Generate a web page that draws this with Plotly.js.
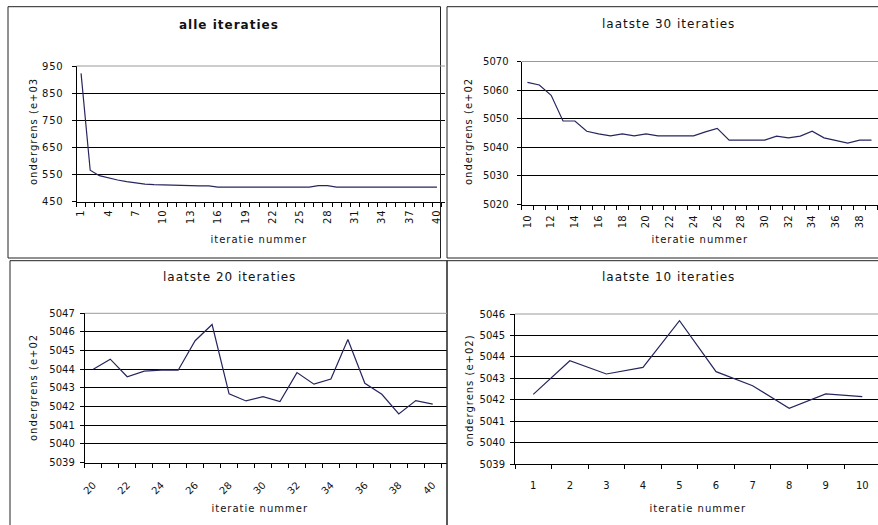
<!DOCTYPE html>
<html>
<head>
<meta charset="utf-8">
<script src="https://cdn.plot.ly/plotly-3.0.1.min.js"></script>
<style>
html,body{margin:0;padding:0;background:#fff;}
#chart{width:878px;height:525px;}
#chart .annotation-text{letter-spacing:1px;}
#chart .xtick text, #chart .ytick text{letter-spacing:0.8px;}
</style>
</head>
<body>
<div id="chart"></div>
<script>
// ---------- data ----------
const titles = ["alle iteraties", "laatste 30 iteraties", "laatste 20 iteraties", "laatste 10 iteraties"];
const xTitle = "iteratie nummer";
const yTitles = ["ondergrens (e+03", "ondergrens (e+02", "ondergrens (e+02", "ondergrens (e+02)"];

// panel 1: all iterations (e+03)
const itAll = [1,2,3,4,5,6,7,8,9,10,11,12,13,14,15,16,17,18,19,20,21,22,23,24,25,26,27,28,29,30,31,32,33,34,35,36,37,38,39,40];
const lbAll = [923,566,546,537,530,524,519,515,513,512,509,509,508,508,508,504,504,504,504,504,504,504,504,504,504,504,509,509,504,504,504,504,504,504,504,504,504,504,504,504];
const tickAll = [1,4,7,10,13,16,19,22,25,28,31,34,37,40];

// panel 2: last 30 iterations (e+02)
const it30 = [10,11,12,13,14,15,16,17,18,19,20,21,22,23,24,25,26,27,28,29,30,31,32,33,34,35,36,37,38,39];
const lb30 = [5062.7,5061.8,5058.2,5049.2,5049.2,5045.6,5044.7,5044.0,5044.7,5044.0,5044.7,5044.0,5044.0,5044.0,5044.0,5045.4,5046.6,5042.5,5042.5,5042.5,5042.5,5043.9,5043.3,5043.9,5045.6,5043.3,5042.5,5041.5,5042.5,5042.5];
const tick30 = [10,12,14,16,18,20,22,24,26,28,30,32,34,36,38];

// panel 3: last 20 iterations (e+02)
const it20 = [20,21,22,23,24,25,26,27,28,29,30,31,32,33,34,35,36,37,38,39,40];
const lb20 = [5044.0,5044.54,5043.6,5043.9,5043.95,5043.95,5045.53,5046.4,5042.68,5042.3,5042.53,5042.27,5043.82,5043.2,5043.48,5045.6,5043.25,5042.66,5041.6,5042.32,5042.13];
const tick20 = [20,22,24,26,28,30,32,34,36,38,40];

// panel 4: last 10 iterations (e+02)
const it10 = [1,2,3,4,5,6,7,8,9,10];
const lb10 = [5042.25,5043.82,5043.2,5043.51,5045.69,5043.31,5042.65,5041.6,5042.27,5042.14];
const tick10 = [1,2,3,4,5,6,7,8,9,10];

// ---------- helpers ----------
const W = 878, H = 525;
const px = x => x / W;
const py = y => 1 - y / H;
const FONT = "DejaVu Sans, Verdana, sans-serif";
const LINE = "#26265e";

function xAxis(domL, domR, r0, r1, tv, angle, yId, standoff) {
  return {
    domain: [px(domL), px(domR)], range: [r0, r1], anchor: yId,
    showline: true, linecolor: "#000", linewidth: 1,
    showgrid: false, zeroline: false, fixedrange: true,
    tickmode: "array", tickvals: tv, ticktext: tv.map(String),
    ticks: "", tickangle: angle, ticklabelstandoff: standoff,
    tickfont: {family: FONT, size: 10, color: "#111"},
    minor: {tickmode: "linear", tick0: 0.5, dtick: 1, ticks: "outside", ticklen: 4,
            tickcolor: "#000", tickwidth: 1, showgrid: false}
  };
}
function yAxis(top, bot, r0, r1, dt, xId, standoff) {
  return {
    domain: [py(bot), py(top)], range: [r0, r1], anchor: xId,
    showline: true, linecolor: "#000", linewidth: 1,
    showgrid: true, gridcolor: "#000", gridwidth: 1, zeroline: false, fixedrange: true,
    tickmode: "linear", tick0: r0, dtick: dt,
    ticks: "outside", ticklen: 4, tickcolor: "#000", tickwidth: 1,
    ticklabelstandoff: standoff,
    tickfont: {family: FONT, size: 10, color: "#111"}
  };
}

const traces = [
  {x: itAll, y: lbAll, xaxis: "x", yaxis: "y"},
  {x: it30, y: lb30, xaxis: "x2", yaxis: "y2"},
  {x: it20, y: lb20, xaxis: "x3", yaxis: "y3"},
  {x: it10, y: lb10, xaxis: "x4", yaxis: "y4"}
].map(t => Object.assign(t, {type: "scatter", mode: "lines", line: {color: LINE, width: 1.2}, hoverinfo: "skip"}));

const titlePos = [[229, 25, true], [668, 24, false], [229, 277, false], [668, 277, false]];
const xTitlePos = [[259, 240], [700, 240], [260, 508], [698, 508]];
const yTitlePos = [[33, 132], [469, 131], [33, 388], [469, 390]];

const annotations = [];
titles.forEach((t, i) => {
  const p = titlePos[i];
  annotations.push({text: p[2] ? "<b>" + t + "</b>" : t, x: px(p[0]), y: py(p[1]), xref: "paper", yref: "paper",
    showarrow: false, xanchor: "center", yanchor: "middle", font: {family: FONT, size: 12, color: "#111"}});
});
xTitlePos.forEach(p => annotations.push({text: xTitle, x: px(p[0]), y: py(p[1]), xref: "paper", yref: "paper",
  showarrow: false, xanchor: "center", yanchor: "middle", font: {family: FONT, size: 10, color: "#111"}}));
yTitles.forEach((t, i) => {
  const p = yTitlePos[i];
  annotations.push({text: t, x: px(p[0]), y: py(p[1]), xref: "paper", yref: "paper", textangle: -90,
    showarrow: false, xanchor: "center", yanchor: "middle", font: {family: FONT, size: 10, color: "#111"}});
});

const border = {color: "#222", width: 1};
const shapes = [
  {type: "rect", xref: "paper", yref: "paper", x0: px(8), x1: px(440.5), y0: py(258), y1: py(6.7), line: border},
  {type: "rect", xref: "paper", yref: "paper", x0: px(447), x1: px(890), y0: py(258), y1: py(6.7), line: border},
  {type: "rect", xref: "paper", yref: "paper", x0: px(10), x1: px(447), y0: py(540), y1: py(260.7), line: border},
  {type: "rect", xref: "paper", yref: "paper", x0: px(447), x1: px(890), y0: py(540), y1: py(260.7), line: border}
];
["", "2", "3", "4"].forEach(s => shapes.push({type: "line", xref: "x" + s + " domain", yref: "y" + s + " domain",
  x0: 0, x1: 1, y0: 1, y1: 1, line: {color: "#9a9a9a", width: 1}}));

const layout = {
  width: W, height: H, margin: {l: 0, r: 0, t: 0, b: 0},
  paper_bgcolor: "#fff", plot_bgcolor: "rgba(0,0,0,0)", showlegend: false,
  xaxis:  xAxis(76.5, 445, 0.5, 40.88, tickAll, -90, "y", 3),
  yaxis:  yAxis(66, 201.7, 450, 950, 100, "x", 6),
  xaxis2: xAxis(521.5, 878, 9.5, 39.55, tick30, -90, "y2", 6),
  yaxis2: yAxis(61.5, 204.5, 5020, 5070, 10, "x2", 6),
  xaxis3: xAxis(84.8, 447, 19.5, 40.84, tick20, -45, "y3", 12),
  yaxis3: yAxis(313.3, 462.5, 5039, 5047, 1, "x3", 3),
  xaxis4: xAxis(515, 878, 0.5, 10.43, tick10, 0, "y4", 12),
  yaxis4: yAxis(314, 464, 5039, 5046, 1, "x4", 3),
  annotations: annotations, shapes: shapes
};

Plotly.newPlot("chart", traces, layout, {staticPlot: true, displayModeBar: false});
</script>
</body>
</html>
